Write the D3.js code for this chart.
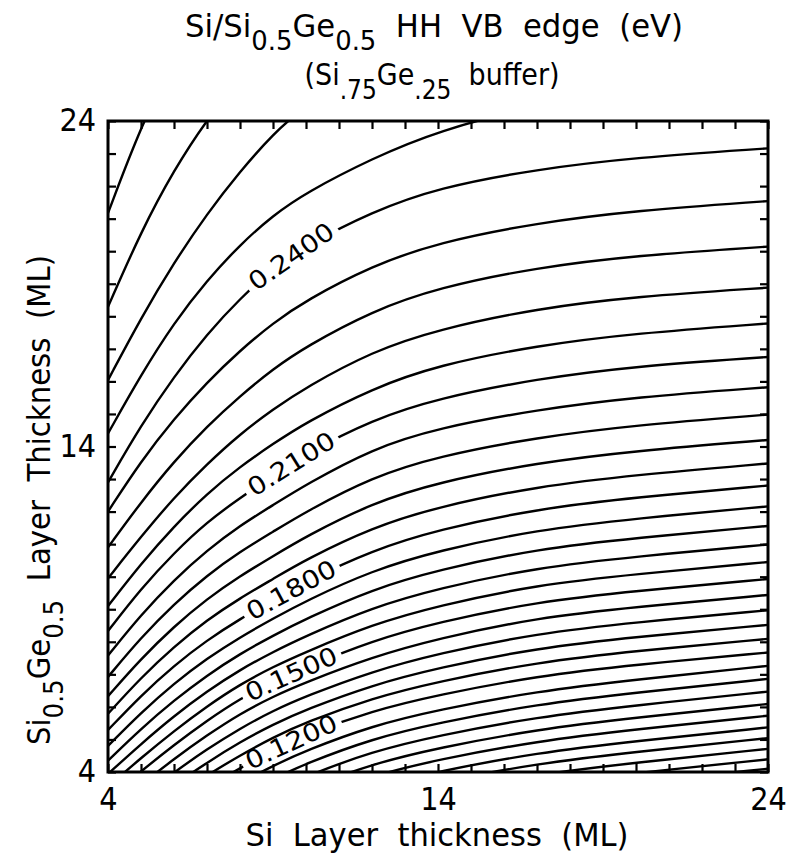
<!DOCTYPE html>
<html><head><meta charset="utf-8">
<script src="https://cdn.jsdelivr.net/npm/d3@7"></script>
<style>
html,body{margin:0;padding:0;background:#fff;}
svg{display:block;}
text{font-family:"Liberation Sans Narrow","DejaVu Sans Condensed","Liberation Sans",sans-serif;fill:#000;}
</style></head><body>
<svg id="chart" width="790" height="856"></svg>
<script>
// Si layer thickness (ML) at which each contour's Ge-layer thickness is read
const xCols = [4, 5, 6, 7, 8, 9, 10, 12, 14, 17, 20, 24];
// contour levels (eV)
const levels = [0.060,0.066,0.072,0.078,0.084,0.090,0.096,0.102,0.108,0.114,
                0.120,0.126,0.132,0.138,0.144,0.150,0.156,0.162,0.168,0.174,
                0.180,0.186,0.192,0.198,0.204,0.210,0.216,0.222,0.228,0.234,
                0.240,0.246,0.252,0.258,0.264];
// Si0.5Ge0.5 layer thickness (ML) of each contour at xCols
const levelYs = [
 [-2.20,-1.40,-0.70,-0.05,0.50,1.03,1.50,2.26,2.75,3.32,3.68,4.10],
 [-1.91,-1.11,-0.41,0.24,0.79,1.32,1.79,2.55,3.04,3.61,3.97,4.39],
 [-1.59,-0.79,-0.09,0.56,1.11,1.64,2.11,2.87,3.36,3.93,4.29,4.71],
 [-1.26,-0.46,0.24,0.89,1.44,1.97,2.44,3.20,3.69,4.26,4.62,5.04],
 [-0.93,-0.13,0.57,1.22,1.77,2.30,2.77,3.53,4.02,4.59,4.95,5.37],
 [-0.57,0.23,0.93,1.58,2.13,2.66,3.13,3.89,4.38,4.95,5.31,5.73],
 [-0.21,0.59,1.29,1.94,2.49,3.02,3.49,4.25,4.74,5.31,5.67,6.09],
 [0.17,0.97,1.67,2.32,2.87,3.40,3.87,4.63,5.12,5.69,6.05,6.47],
 [0.56,1.36,2.06,2.71,3.26,3.79,4.26,5.02,5.51,6.08,6.44,6.86],
 [0.96,1.76,2.46,3.11,3.66,4.19,4.66,5.42,5.91,6.48,6.84,7.26],
 [1.37,2.17,2.87,3.52,4.12,4.67,5.15,5.88,6.37,6.95,7.30,7.67],
 [1.70,2.51,3.23,3.90,4.51,5.06,5.53,6.27,6.78,7.37,7.72,8.09],
 [2.04,2.86,3.60,4.29,4.92,5.46,5.92,6.67,7.20,7.81,8.15,8.52],
 [2.40,3.22,3.99,4.70,5.34,5.88,6.33,7.09,7.64,8.26,8.60,8.97],
 [2.78,3.61,4.40,5.13,5.79,6.32,6.76,7.53,8.10,8.74,9.07,9.44],
 [3.18,4.02,4.83,5.58,6.25,6.78,7.21,8.03,8.60,9.23,9.56,9.93],
 [3.55,4.43,5.26,6.02,6.69,7.23,7.69,8.53,9.11,9.75,10.08,10.45],
 [3.94,4.86,5.72,6.48,7.14,7.69,8.18,9.05,9.64,10.28,10.62,10.99],
 [4.35,5.33,6.20,6.97,7.63,8.19,8.71,9.61,10.21,10.85,11.19,11.56],
 [4.80,5.82,6.72,7.49,8.14,8.71,9.26,10.19,10.80,11.44,11.79,12.16],
 [5.29,6.35,7.27,8.05,8.70,9.28,9.86,10.81,11.45,12.08,12.44,12.80],
 [5.79,6.90,7.85,8.67,9.34,9.93,10.53,11.51,12.15,12.77,13.13,13.48],
 [6.33,7.48,8.47,9.32,10.02,10.63,11.24,12.26,12.90,13.50,13.87,14.20],
 [6.92,8.13,9.16,10.04,10.77,11.38,12.00,13.06,13.70,14.28,14.66,14.98],
 [7.58,8.83,9.90,10.81,11.57,12.20,12.83,13.93,14.57,15.13,15.52,15.82],
 [8.33,9.63,10.73,11.68,12.42,13.10,13.78,14.82,15.48,16.08,16.47,16.75],
 [9.10,10.40,11.55,12.55,13.38,14.08,14.74,15.78,16.50,17.10,17.48,17.78],
 [9.95,11.23,12.43,13.46,14.38,15.14,15.82,16.92,17.60,18.24,18.61,18.88],
 [10.90,12.29,13.54,14.62,15.55,16.38,17.07,18.16,18.88,19.50,19.87,20.14],
 [12.00,13.55,14.85,15.97,16.95,17.79,18.49,19.55,20.27,20.87,21.25,21.54],
 [12.90,14.65,16.15,17.45,18.55,19.45,20.17,21.21,21.95,22.52,22.88,23.16],
 [14.40,16.20,17.80,19.10,20.20,21.10,21.80,22.85,23.70,24.50,24.90,25.10],
 [16.04,17.95,19.65,21.15,22.45,23.60,24.50,25.80,26.60,27.20,27.55,27.80],
 [18.29,20.60,22.50,24.05,25.30,26.30,27.10,28.30,29.10,29.80,30.20,30.50],
 [21.17,23.85,25.90,27.50,28.80,29.80,30.60,31.90,32.80,33.50,33.90,34.20]
];
const labeledLevels = [0.120, 0.150, 0.180, 0.210, 0.240];
const tickValues = [4,5,6,7,8,9,10,11,12,13,14,15,16,17,18,19,20,21,22,23,24];
const tickLabels = [4, 14, 24];

const svg = d3.select("#chart");
const W = 790, H = 856;
const P = {left:108, right:768, top:121, bottom:772};
const x = d3.scaleLinear().domain([4,24]).range([P.left, P.right]);
const y = d3.scaleLinear().domain([4,24]).range([P.bottom, P.top]);

svg.append("rect").attr("width",W).attr("height",H).attr("fill","#fff");

const defs = svg.append("defs");
defs.append("clipPath").attr("id","plotClip").append("rect")
  .attr("x",P.left).attr("y",P.top).attr("width",P.right-P.left).attr("height",P.bottom-P.top);

const line = d3.line().x(d=>x(d[0])).y(d=>y(d[1])).curve(d3.curveBasis);
const fmt = d3.format(".4f");
const labelAt = 9.55;

const g = svg.append("g").attr("clip-path","url(#plotClip)");
levels.forEach((lv,i)=>{
  const pts = xCols.map((xv,j)=>[xv, levelYs[i][j]]);
  const path = g.append("path").attr("d", line(pts)).attr("fill","none")
    .attr("stroke","#000").attr("stroke-width",2.4).attr("stroke-linejoin","round");
  const li = labeledLevels.findIndex(v=>Math.abs(v-lv)<1e-9);
  if (li >= 0) {
    const interp = d3.scaleLinear().domain(xCols).range(levelYs[i]);
    const cx = x(labelAt), cy = y(interp(labelAt));
    const ax = x(labelAt-1.2), ay = y(interp(labelAt-1.2));
    const bx = x(labelAt+1.2), by = y(interp(labelAt+1.2));
    const ang = Math.atan2(by-ay, bx-ax)*180/Math.PI;
    const m = defs.append("mask").attr("id","m"+li).attr("maskUnits","userSpaceOnUse")
      .attr("x",0).attr("y",0).attr("width",W).attr("height",H);
    m.append("rect").attr("x",0).attr("y",0).attr("width",W).attr("height",H).attr("fill","#fff");
    m.append("rect").attr("x",-54).attr("y",-10).attr("width",108).attr("height",20).attr("fill","#000")
      .attr("transform",`translate(${cx},${cy}) rotate(${ang})`);
    path.attr("mask","url(#m"+li+")");
    svg.append("text").attr("transform",`translate(${cx},${cy}) rotate(${ang})`)
      .attr("text-anchor","middle").attr("dy","0.36em")
      .attr("font-size",25).attr("textLength",98).attr("lengthAdjust","spacingAndGlyphs")
      .text(fmt(lv));
  }
});

// axes with inward ticks on all four sides
const fmtTick = d => tickLabels.includes(d) ? String(d) : "";
const axB = svg.append("g").attr("transform",`translate(0,${P.bottom})`)
  .call(d3.axisBottom(x).tickValues(tickValues).tickSize(-8).tickPadding(14).tickFormat(fmtTick));
const axT = svg.append("g").attr("transform",`translate(0,${P.top})`)
  .call(d3.axisTop(x).tickValues(tickValues).tickSize(-8).tickFormat(""));
const axL = svg.append("g").attr("transform",`translate(${P.left},0)`)
  .call(d3.axisLeft(y).tickValues(tickValues).tickSize(-8).tickPadding(12).tickFormat(fmtTick));
const axR = svg.append("g").attr("transform",`translate(${P.right},0)`)
  .call(d3.axisRight(y).tickValues(tickValues).tickSize(-8).tickFormat(""));
[axB,axT,axL,axR].forEach(a=>{
  a.select(".domain").remove();
  a.selectAll(".tick line").attr("stroke","#000").attr("stroke-width",2.2);
  a.selectAll(".tick text").attr("font-size",32).attr("fill","#000")
    .style("font-family",'"Liberation Sans Narrow","DejaVu Sans Condensed","Liberation Sans",sans-serif');
});
axB.selectAll(".tick text").attr("dy","0.75em");
axL.selectAll(".tick text").attr("dy","0.3em");

svg.append("rect").attr("x",P.left).attr("y",P.top).attr("width",P.right-P.left)
  .attr("height",P.bottom-P.top).attr("fill","none").attr("stroke","#000").attr("stroke-width",3);

// titles
const t1 = svg.append("text").attr("x",434).attr("y",37).attr("text-anchor","middle")
  .attr("font-size",32).attr("textLength",498).attr("lengthAdjust","spacingAndGlyphs")
  .style("white-space","pre");
t1.append("tspan").text("Si/Si");
t1.append("tspan").attr("dy",13).attr("font-size",27).text("0.5");
t1.append("tspan").attr("dy",-13).text("Ge");
t1.append("tspan").attr("dy",13).attr("font-size",27).text("0.5");
t1.append("tspan").attr("dy",-13).text("  HH  VB  edge  (eV)");

const t2 = svg.append("text").attr("x",432).attr("y",85).attr("text-anchor","middle")
  .attr("font-size",30).attr("textLength",255).attr("lengthAdjust","spacingAndGlyphs")
  .style("white-space","pre");
t2.append("tspan").text("(Si");
t2.append("tspan").attr("dy",14).attr("font-size",26).text(".75");
t2.append("tspan").attr("dy",-14).text("Ge");
t2.append("tspan").attr("dy",14).attr("font-size",26).text(".25");
t2.append("tspan").attr("dy",-14).text("  buffer)");

const yl = svg.append("text").attr("transform","translate(50,500) rotate(-90)")
  .attr("text-anchor","middle").attr("font-size",32)
  .attr("textLength",490).attr("lengthAdjust","spacingAndGlyphs").style("white-space","pre");
yl.append("tspan").text("Si");
yl.append("tspan").attr("dy",13).attr("font-size",27).text("0.5");
yl.append("tspan").attr("dy",-13).text("Ge");
yl.append("tspan").attr("dy",13).attr("font-size",27).text("0.5");
yl.append("tspan").attr("dy",-13).text("  Layer  Thickness  (ML)");

svg.append("text").attr("x",437).attr("y",846).attr("text-anchor","middle")
  .attr("font-size",32).attr("textLength",383).attr("lengthAdjust","spacingAndGlyphs")
  .style("white-space","pre").text("Si  Layer  thickness  (ML)");
</script>
</body></html>
